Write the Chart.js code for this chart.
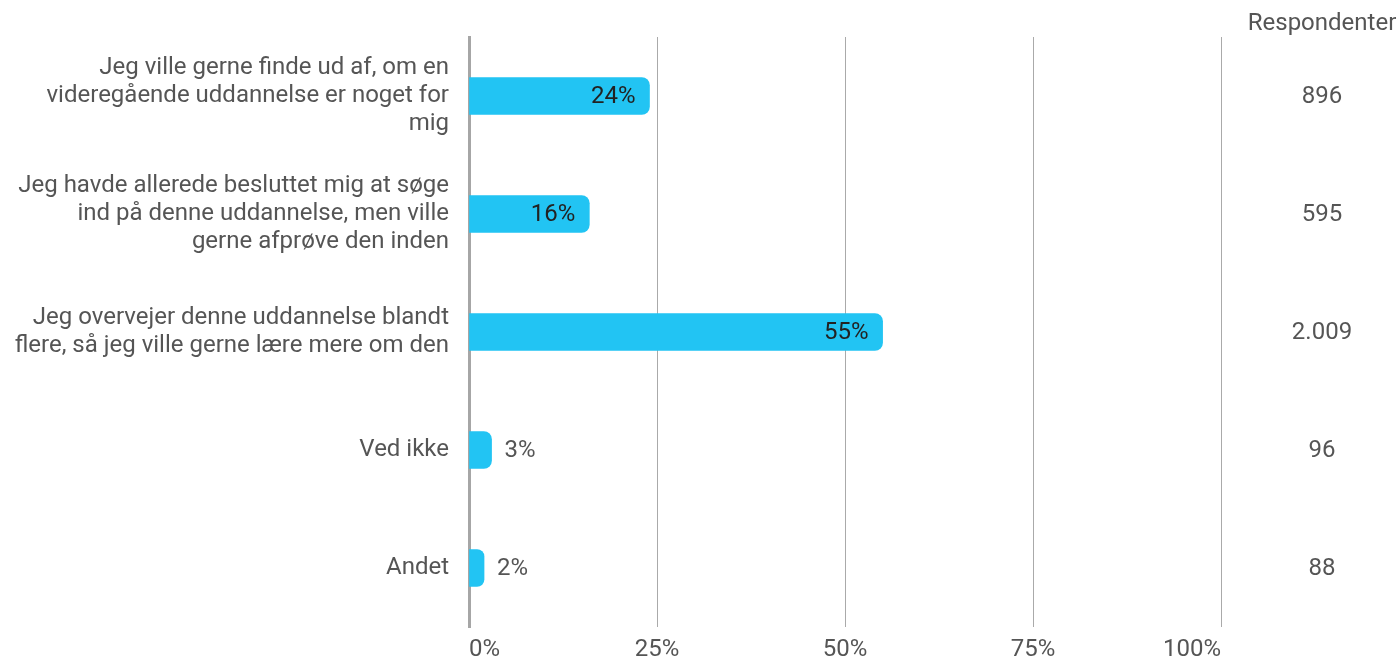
<!DOCTYPE html>
<html>
<head>
<meta charset="utf-8">
<script src="https://cdn.jsdelivr.net/npm/chart.js@4"></script>
<style>
  html, body { margin: 0; padding: 0; background: #fff; }
  #wrap { width: 1399px; height: 662px; position: relative; }
</style>
</head>
<body>
<div id="wrap"><canvas id="chart"></canvas></div>
<script>
const categories = [
  ['Jeg ville gerne finde ud af, om en', 'videregående uddannelse er noget for', 'mig'],
  ['Jeg havde allerede besluttet mig at søge', 'ind på denne uddannelse, men ville', 'gerne afprøve den inden'],
  ['Jeg overvejer denne uddannelse blandt', 'flere, så jeg ville gerne lære mere om den'],
  'Ved ikke',
  'Andet'
]
const percentages = [24, 16, 55, 3, 2]
const respondents = ['896', '595', '2.009', '96', '88']
const respondentsTitle = 'Respondenter'
const xTicks = [0, 25, 50, 75, 100]

const FONT = 'Roboto, "Noto Sans", sans-serif'
const TEXT = '#555555'
const SIZE = 24

// percent labels at the bar ends, inside when the bar is wide enough
const barLabels = {
  id: 'barLabels',
  afterDatasetsDraw(chart) {
    const ctx = chart.ctx
    const meta = chart.getDatasetMeta(0)
    ctx.save()
    ctx.font = SIZE + 'px ' + FONT
    ctx.textBaseline = 'middle'
    meta.data.forEach((bar, i) => {
      const v = percentages[i]
      const txt = v + '%'
      if (v >= 10) {
        ctx.fillStyle = '#222222'
        ctx.textAlign = 'right'
        ctx.fillText(txt, bar.x - 14, bar.y + 1)
      } else {
        ctx.fillStyle = TEXT
        ctx.textAlign = 'left'
        ctx.fillText(txt, bar.x + 13, bar.y + 1)
      }
    })
    ctx.restore()
  }
}

// respondent counts in a column on the right
const respondentColumn = {
  id: 'respondentColumn',
  afterDraw(chart) {
    const ctx = chart.ctx
    const y = chart.scales.y
    ctx.save()
    ctx.font = SIZE + 'px ' + FONT
    ctx.fillStyle = TEXT
    ctx.textAlign = 'center'
    ctx.textBaseline = 'middle'
    ctx.fillText(respondentsTitle, 1322, 24)
    respondents.forEach((r, i) => {
      ctx.fillText(r, 1322, y.getPixelForValue(i) + 1)
    })
    ctx.restore()
  }
}

const noPad = (s) => {
  s.paddingTop = 0
  s.paddingBottom = 0
  s.paddingLeft = 0
  s.paddingRight = 0
}

new Chart(document.getElementById('chart'), {
  type: 'bar',
  data: {
    labels: categories,
    datasets: [{
      data: percentages,
      backgroundColor: '#22C4F3',
      borderWidth: 0,
      borderRadius: 8,
      borderSkipped: 'start',
      barThickness: 37
    }]
  },
  options: {
    indexAxis: 'y',
    responsive: true,
    maintainAspectRatio: false,
    animation: false,
    layout: { padding: { top: 37, right: 178, bottom: 0, left: 0 } },
    plugins: {
      legend: { display: false },
      tooltip: { enabled: false }
    },
    scales: {
      x: {
        min: 0,
        max: 100,
        afterBuildTicks: (s) => { s.ticks = xTicks.map(v => ({ value: v })) },
        afterFit: (s) => { s.height = 35; noPad(s) },
        ticks: {
          color: TEXT,
          font: { family: FONT, size: SIZE },
          padding: 9,
          align: 'inner',
          callback: (v) => v + '%'
        },
        grid: { color: '#aaaaaa', lineWidth: 1, drawTicks: false },
        border: { display: false }
      },
      y: {
        afterFit: (s) => { s.width = 469; noPad(s) },
        ticks: {
          color: TEXT,
          font: { family: FONT, size: SIZE, lineHeight: 28 / SIZE },
          padding: 20
        },
        grid: { display: false, drawTicks: false },
        border: { display: true, color: '#a6a6a6', width: 3 }
      }
    }
  },
  plugins: [barLabels, respondentColumn]
})
</script>
</body>
</html>
